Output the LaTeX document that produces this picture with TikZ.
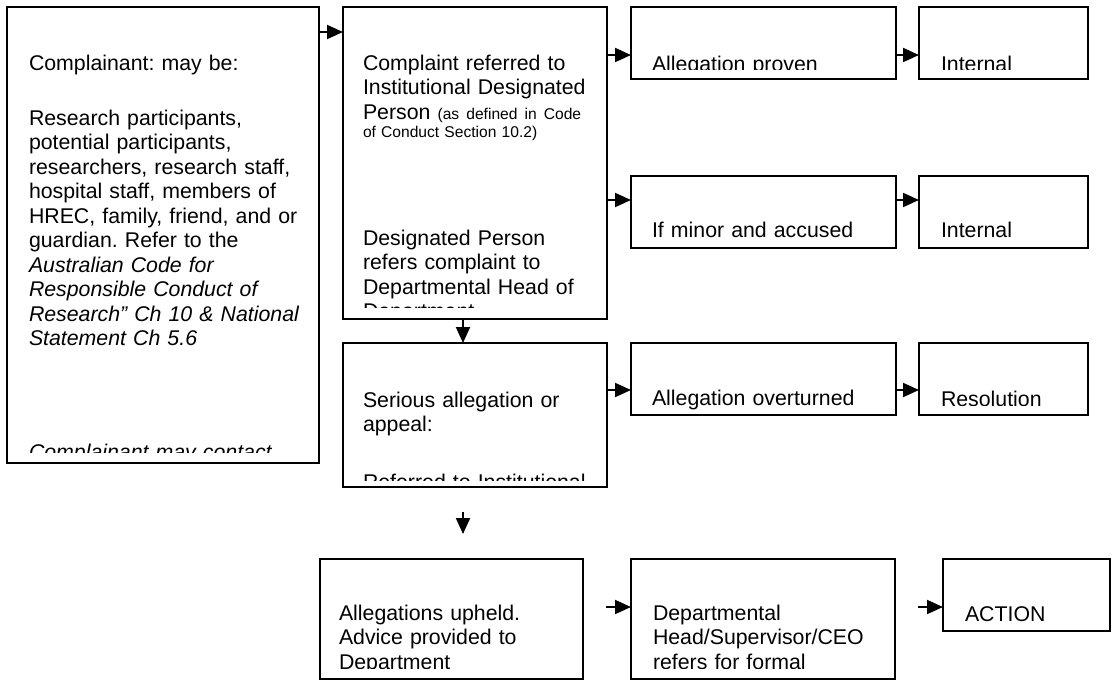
\documentclass[tikz,border=0pt]{standalone}
\usepackage{fontspec}
\setmainfont{Liberation Sans}
\usetikzlibrary{arrows.meta}
\newcommand\mainsz{\fontsize{21.3pt}{24.5pt}\selectfont}
\newcommand\smallsz{\fontsize{15.6pt}{18.4pt}\selectfont}
\frenchspacing
\tikzset{
  boxst/.style={draw=black, line width=2pt, anchor=north west, outer sep=0pt, inner sep=0pt},
  txt/.style={anchor=base west, inner sep=0pt, outer sep=0pt, text width=420pt, align=left, font=\mainsz},
  stxt/.style={anchor=base west, inner sep=0pt, outer sep=0pt, text width=420pt, align=left, font=\smallsz},
  arr/.style={draw=black, line width=2pt, -{Triangle[length=16pt,width=14pt]}}
}
\begin{document}
\begin{tikzpicture}[x=1pt,y=-1pt]
\useasboundingbox (0,0) rectangle (1112,680);
\fill[white] (0,0) rectangle (1112,680);
% boxes
\node[boxst, minimum width=312pt, minimum height=456pt] (cpl) at (7,7) {};
\node[boxst, minimum width=264pt, minimum height=312pt] (ref) at (343,7) {};
\node[boxst, minimum width=264pt, minimum height=144pt] (ser) at (343,343) {};
\node[boxst, minimum width=265pt, minimum height=72pt] (prv) at (631,7) {};
\node[boxst, minimum width=169pt, minimum height=72pt] (int1) at (919,7) {};
\node[boxst, minimum width=265pt, minimum height=72pt] (mnr) at (631,176) {};
\node[boxst, minimum width=169pt, minimum height=72pt] (int2) at (919,176) {};
\node[boxst, minimum width=265pt, minimum height=72pt] (ovt) at (631,343) {};
\node[boxst, minimum width=169pt, minimum height=72pt] (res) at (919,343) {};
\node[boxst, minimum width=263pt, minimum height=120pt] (uph) at (320,559) {};
\node[boxst, minimum width=264pt, minimum height=120pt] (dep) at (631,559) {};
\node[boxst, minimum width=167pt, minimum height=72pt] (act) at (943,559) {};
% texts (clipped like the original text boxes)
\begin{scope}
\clip (8,8) rectangle (318,452);
\node[txt] (t1a) at (29,70) {Complainant: may be:};
\node[txt] (t1b) at (29,125) {Research participants,\\potential participants,\\researchers, research staff,\\hospital staff, members of\\HREC, family, friend, and or\\guardian. Refer to the\\\textit{Australian Code for}\\\textit{Responsible Conduct of}\\\textit{Research” Ch 10 \& National}\\\textit{Statement Ch 5.6}};
\node[txt] (t1c) at (29,459) {\textit{Complainant may contact}};
\end{scope}
\begin{scope}
\clip (344,8) rectangle (606,307);
\node[txt] (t2a) at (363,70) {Complaint referred to\\Institutional Designated\\Person {\smallsz (as defined in Code}};
\node[stxt] (t2b) at (363,137) {of Conduct Section 10.2)};
\node[txt] (t2c) at (363,245) {Designated Person\\refers complaint to\\Departmental Head of\\Department};
\end{scope}
\begin{scope}
\clip (344,344) rectangle (606,480);
\node[txt] (t3a) at (363,407) {Serious allegation or\\appeal:};
\node[txt] (t3b) at (363,489) {Referred to Institutional};
\end{scope}
\begin{scope}
\clip (632,8) rectangle (895,69);
\node[txt] (t4) at (652,71) {Allegation proven};
\end{scope}
\begin{scope}
\clip (920,8) rectangle (1087,69);
\node[txt] (t5) at (941,71) {Internal};
\end{scope}
\begin{scope}
\clip (632,177) rectangle (895,238);
\node[txt] (t6) at (652,237) {If minor and accused};
\end{scope}
\begin{scope}
\clip (920,177) rectangle (1087,238);
\node[txt] (t7) at (941,237) {Internal};
\end{scope}
\begin{scope}
\clip (632,344) rectangle (895,410);
\node[txt] (t8) at (652,405) {Allegation overturned};
\end{scope}
\begin{scope}
\clip (920,344) rectangle (1087,405);
\node[txt] (t9) at (941,406) {Resolution};
\end{scope}
\begin{scope}
\clip (321,560) rectangle (582,668);
\node[txt] (t10) at (339,620) {Allegations upheld.\\Advice provided to\\Department};
\end{scope}
\begin{scope}
\clip (632,560) rectangle (894,668);
\node[txt] (t11) at (653,620) {Departmental\\Head/Supervisor/CEO\\refers for formal};
\end{scope}
\begin{scope}
\clip (944,560) rectangle (1109,621);
\node[txt] (t12) at (965,621) {ACTION};
\end{scope}
% connectors
\draw[arr] (cpl.east |- 0,32) -- (ref.west |- 0,32);
\draw[arr] (ref.east |- 0,55) -- (prv.west |- 0,55);
\draw[arr] (ref.east |- 0,200) -- (mnr.west |- 0,200);
\draw[arr] (ser.east |- 0,390) -- (ovt.west |- 0,390);
\draw[arr] (prv.east |- 0,55) -- (int1.west |- 0,55);
\draw[arr] (mnr.east |- 0,200) -- (int2.west |- 0,200);
\draw[arr] (ovt.east |- 0,390) -- (res.west |- 0,390);
\draw[arr] (ref.south -| 463,0) -- (ser.north -| 463,0);
\coordinate (d1) at (463,512);
\coordinate (d2) at (463,534);
\draw[arr] (d1) -- (d2);
\coordinate (a1) at (606,607);
\draw[arr] (a1) -- (dep.west |- 0,607);
\coordinate (a2) at (918,607);
\draw[arr] (a2) -- (act.west |- 0,607);
\end{tikzpicture}
\end{document}
